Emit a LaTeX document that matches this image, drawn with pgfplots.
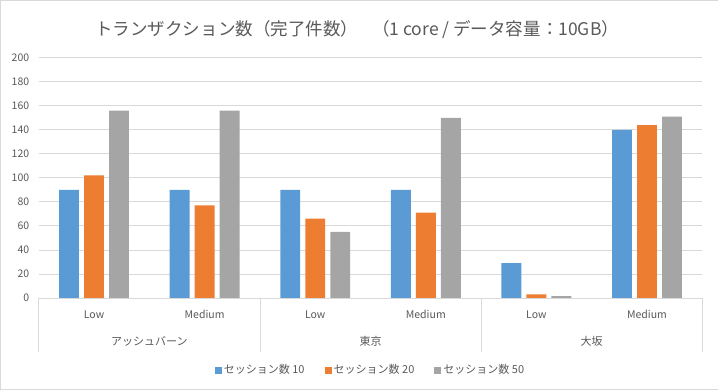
\documentclass[border=0pt]{standalone}
\usepackage{fontspec}
\setmainfont{Noto Sans CJK JP}
\usepackage{pgfplots}
\pgfplotsset{compat=1.18}
\definecolor{cblue}{HTML}{5B9BD5}
\definecolor{corange}{HTML}{ED7D31}
\definecolor{cgray}{HTML}{A5A5A5}
\definecolor{gridc}{HTML}{D9D9D9}
\definecolor{txt}{HTML}{595959}
\begin{document}
\begin{tikzpicture}[x=1pt,y=1pt]
\draw[gridc] (0.5,0.5) rectangle (717.5,389.5);
\begin{axis}[
  at={(39pt,92pt)}, anchor=south west,
  scale only axis, width=663pt, height=240pt,
  ybar, bar width=0.18,
  xmin=-0.5, xmax=5.5, ymin=0, ymax=200,
  ytick={0,20,...,200},
  xtick={0,1,2,3,4,5},
  xticklabels={Low,Medium,Low,Medium,Low,Medium},
  major tick length=0pt,
  ymajorgrids, grid style={gridc, line width=0.8pt},
  axis x line*=bottom, axis y line*=left,
  x axis line style={gridc, line width=0.8pt, -},
  y axis line style={draw=none},
  tick label style={text=txt, font=\fontsize{10.5}{12}\selectfont},
  /pgf/number format/assume math mode=true,
  yticklabel style={xshift=-6pt},
  xticklabel style={yshift=-9pt},
  clip=false,
  legend style={at={(0.5,-0.30)}, anchor=center, draw=none, fill=none,
    font=\fontsize{11}{12}\selectfont, text=txt, legend columns=-1,
    /tikz/every even column/.append style={column sep=18pt}},
  legend image code/.code={\fill[#1] (0pt,-3.5pt) rectangle (7pt,3.5pt);},
  title={トランザクション数（完了件数）\hspace{0.8em}（1 core / データ容量：10GB）},
  title style={at={(0.48,1)}, yshift=22pt, text=txt, font=\fontsize{17.5}{19}\selectfont, anchor=center},
]
\addplot[fill=cblue, draw=none, bar shift=-0.226] coordinates {(0,90) (1,90) (2,90) (3,90) (4,29) (5,140)};
\addplot[fill=corange, draw=none, bar shift=0] coordinates {(0,102) (1,77) (2,66) (3,71) (4,3) (5,144)};
\addplot[fill=cgray, draw=none, bar shift=0.226] coordinates {(0,156) (1,156) (2,55) (3,150) (4,1.5) (5,151)};
\legend{セッション数 10, セッション数 20, セッション数 50}
\foreach \xx in {-0.5,1.5,3.5,5.5} {
  \edef\tmp{\noexpand\draw[gridc, line width=0.8pt] (axis cs:\xx,0) -- ([yshift=-54pt]axis cs:\xx,0);}\tmp
}
\node[text=txt, font=\fontsize{11}{12}\selectfont] at ([yshift=-43pt]axis cs:0.5,0) {アッシュバーン};
\node[text=txt, font=\fontsize{11}{12}\selectfont] at ([yshift=-43pt]axis cs:2.5,0) {東京};
\node[text=txt, font=\fontsize{11}{12}\selectfont] at ([yshift=-43pt]axis cs:4.5,0) {大坂};
\end{axis}
\end{tikzpicture}
\end{document}
